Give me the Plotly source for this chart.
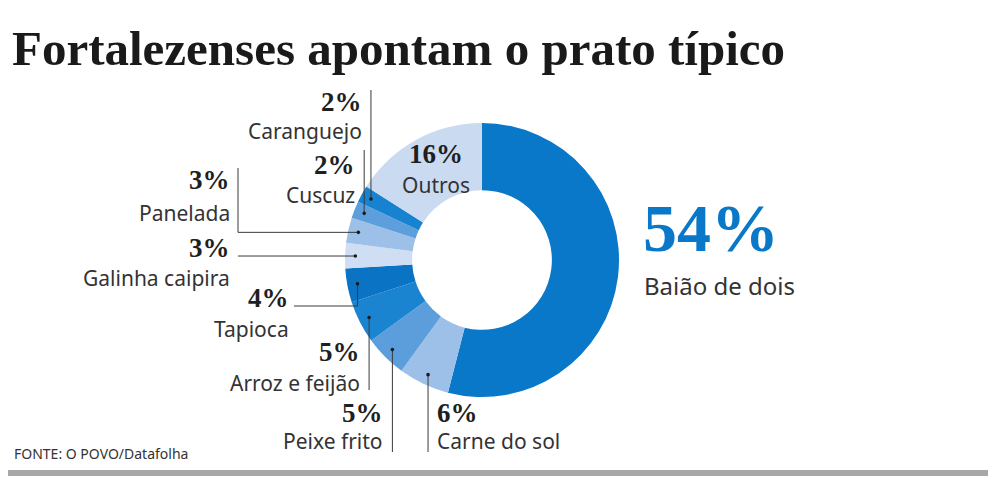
import math
import plotly.graph_objects as go

# data
labels = ["Baião de dois", "Carne do sol", "Peixe frito", "Arroz e feijão", "Tapioca",
          "Galinha caipira", "Panelada", "Cuscuz", "Caranguejo", "Outros"]
values = [54, 6, 5, 5, 4, 3, 3, 2, 2, 16]
colors = ["#0a78c8", "#9cc0e8", "#5c9edc", "#1a84d0", "#0b73c3",
          "#cfdef2", "#9dc0e8", "#5d9fdc", "#1782d0", "#c9daf1"]

W, H = 1000, 500
PAGE_MARGIN = 8  # body margin of the html page
CX, CY, R = 482, 260, 137
HOLE = 0.51


def px(x):
    return (x - PAGE_MARGIN) / W


def py(y):
    return 1 - (y - PAGE_MARGIN) / H


# label layout: text x (None = next to the leader), pct y, name y, xanchor, leader kind, leader end
label_pos = {
    "Carne do sol":    dict(x=None, yp=413, yn=441, anchor="left", kind="v", end=452),
    "Peixe frito":     dict(x=None, yp=413, yn=441, anchor="right", kind="v", end=452),
    "Arroz e feijão":  dict(x=None, yp=352, yn=383, anchor="right", kind="v", end=390),
    "Tapioca":         dict(x=291, yp=298, yn=329, anchor="right", kind="vh", end=(294, 306)),
    "Galinha caipira": dict(x=232, yp=248, yn=278, anchor="right", kind="h", end=238),
    "Panelada":        dict(x=232, yp=180, yn=213, anchor="right", kind="hv", end=(238, 168)),
    "Cuscuz":          dict(x=None, yp=165, yn=195, anchor="right", kind="v", end=150),
    "Caranguejo":      dict(x=None, yp=102, yn=131, anchor="right", kind="v", end=90),
}

fig = go.Figure()
fig.add_trace(go.Pie(
    labels=labels, values=values, sort=False, direction="clockwise", rotation=0,
    hole=HOLE, textinfo="none", hoverinfo="label+percent",
    marker=dict(colors=colors, line=dict(width=0)),
    domain=dict(x=[px(CX - R), px(CX + R)], y=[py(CY + R), py(CY - R)]),
    showlegend=False,
))

shapes = []
annotations = []
total = sum(values)
cum = 0
for lab, val in zip(labels, values):
    mid = (cum + val / 2) / total * 2 * math.pi
    cum += val
    if lab not in label_pos:
        continue
    p = label_pos[lab]
    r = 0.925 * R
    dx = CX + r * math.sin(mid)
    dy = CY - r * math.cos(mid)
    if p["kind"] == "v":
        pts = [(dx, dy), (dx, p["end"])]
    elif p["kind"] == "h":
        pts = [(dx, dy), (p["end"], dy)]
    elif p["kind"] == "vh":
        pts = [(dx, dy), (dx, p["end"][1]), (p["end"][0], p["end"][1])]
    else:
        pts = [(dx, dy), (p["end"][0], dy), (p["end"][0], p["end"][1])]
    tx = p["x"]
    if tx is None:
        tx = dx + 7 if p["anchor"] == "left" else dx - 7
    path = "M " + " L ".join(f"{px(a)},{py(b)}" for a, b in pts)
    shapes.append(dict(type="path", path=path, xref="paper", yref="paper",
                       line=dict(color="#3a3a3a", width=1), layer="above"))
    shapes.append(dict(type="circle", xref="paper", yref="paper",
                       x0=px(dx - 1.8), x1=px(dx + 1.8), y0=py(dy + 1.8), y1=py(dy - 1.8),
                       fillcolor="#1a1a1a", line=dict(width=0), layer="above"))
    annotations.append(dict(x=px(tx), y=py(p["yp"]), text=f"<b>{val}%</b>",
                            xanchor=p["anchor"], yanchor="middle",
                            font=dict(family="Liberation Serif", size=27, color="#1f1f1f")))
    annotations.append(dict(x=px(tx), y=py(p["yn"]), text=lab,
                            xanchor=p["anchor"], yanchor="middle",
                            font=dict(family="Noto Sans", size=21, color="#333333")))

# Outros inside the ring, Baião de dois on the right
annotations.append(dict(x=px(436), y=py(154), text=f"<b>{values[-1]}%</b>",
                        xanchor="center", yanchor="middle",
                        font=dict(family="Liberation Serif", size=27, color="#1f1f1f")))
annotations.append(dict(x=px(436), y=py(185), text=labels[-1],
                        xanchor="center", yanchor="middle",
                        font=dict(family="Noto Sans", size=21, color="#333333")))
annotations.append(dict(x=px(641), y=py(228), text=f"<b>{values[0]}%</b>",
                        xanchor="left", yanchor="middle",
                        font=dict(family="Liberation Serif", size=68, color="#0a78c8")))
annotations.append(dict(x=px(642), y=py(285), text=labels[0],
                        xanchor="left", yanchor="middle",
                        font=dict(family="Noto Sans", size=24, color="#333333")))

# title, source and footer bar
annotations.append(dict(x=px(10), y=py(49), text="<b>Fortalezenses apontam o prato típico</b>",
                        xanchor="left", yanchor="middle",
                        font=dict(family="Liberation Serif", size=49, color="#1a1a1a")))
annotations.append(dict(x=px(12), y=py(453), text="FONTE: O POVO/Datafolha",
                        xanchor="left", yanchor="middle",
                        font=dict(family="Noto Sans", size=14, color="#333333")))
shapes.append(dict(type="rect", xref="paper", yref="paper",
                   x0=px(7), x1=px(988), y0=py(476), y1=py(470),
                   fillcolor="#a8a8a8", line=dict(width=0)))

for a in annotations:
    a.update(xref="paper", yref="paper", showarrow=False)

fig.update_layout(
    width=W, height=H, margin=dict(l=0, r=0, t=0, b=0),
    paper_bgcolor="white", plot_bgcolor="white",
    shapes=shapes, annotations=annotations,
)

fig.write_html("out.html")
